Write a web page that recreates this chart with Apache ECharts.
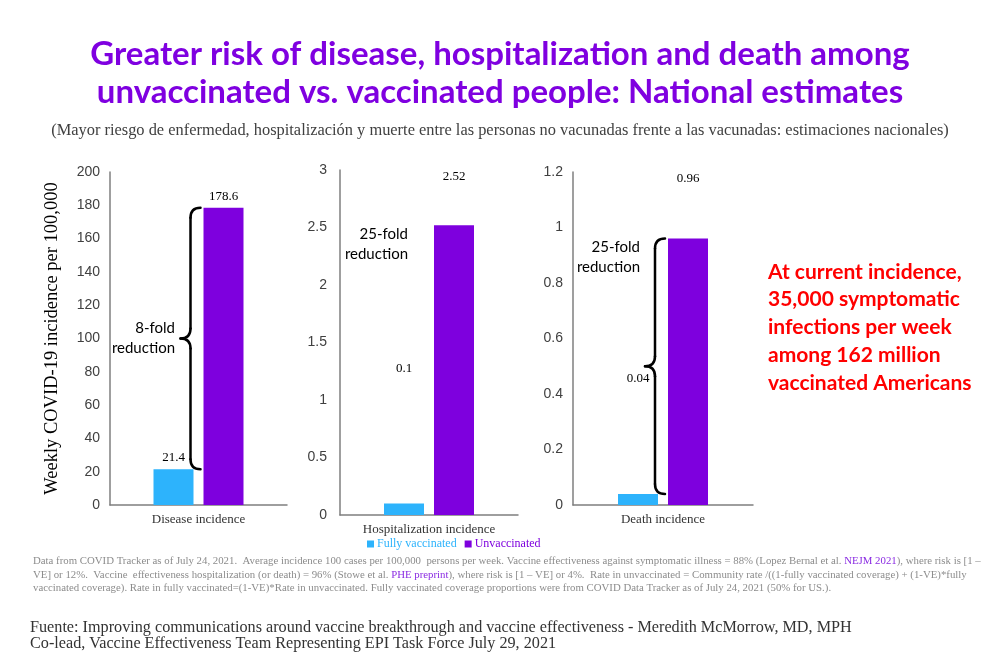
<!DOCTYPE html>
<html>
<head>
<meta charset="utf-8">
<script src="https://cdn.jsdelivr.net/npm/echarts@6/dist/echarts.min.js"></script>
<style>
html,body{margin:0;padding:0;background:#fff;}
#c{width:1000px;height:667px;}
</style>
</head>
<body>
<div id="c"></div>
<script>
// ---- data ----
var categories = ['Disease incidence', 'Hospitalization incidence', 'Death incidence'];
var fullyVaccinated = [21.4, 0.1, 0.04];
var unvaccinated = [178.6, 2.52, 0.96];
var yMax = [200, 3, 1.2];
var yInterval = [20, 0.5, 0.2];
var seriesNames = ['Fully vaccinated', 'Unvaccinated'];
var foldTexts = ['8-fold\nreduction', '25-fold\nreduction', '25-fold\nreduction'];

var BLUE = '#2DB3FC';
var PURPLE = '#7E00DE';
var SERIF = '"Liberation Serif", "DejaVu Serif", serif';
var SANS = '"Liberation Sans", Arial, sans-serif';

var chart = echarts.init(document.getElementById('c'), null, {renderer: 'canvas'});

var grids = [
  {left: 110, top: 172, width: 177, height: 333},
  {left: 340, top: 170, width: 178, height: 345},
  {left: 573, top: 172, width: 180, height: 333}
];

// label offsets for annotated values (annotation placement only)
var blueLabelOffset = [[0, 0], [0, -123], [0, -104]];
var purpleLabelOffset = [[0, 0], [0, -37], [0, -49]];

var xAxes = [], yAxes = [], series = [];
for (var i = 0; i < 3; i++) {
  xAxes.push({
    gridIndex: i, type: 'category', data: [categories[i]],
    axisLine: {lineStyle: {color: '#7f7f7f', width: 1.5}},
    axisTick: {show: false},
    axisLabel: {color: '#333', fontFamily: SERIF, fontSize: 13, margin: 8}
  });
  yAxes.push({
    gridIndex: i, type: 'value', min: 0, max: yMax[i], interval: yInterval[i],
    splitLine: {show: false},
    axisLine: {show: true, lineStyle: {color: '#7f7f7f', width: 1.5}},
    axisTick: {show: false},
    axisLabel: {color: '#404040', fontFamily: SANS, fontSize: 14, margin: i === 1 ? 13 : 10},
    name: i === 0 ? 'Weekly COVID-19 incidence per 100,000' : '',
    nameLocation: 'middle', nameGap: 48, nameRotate: 90,
    nameTextStyle: {color: '#000', fontFamily: SERIF, fontSize: 18.5}
  });
  series.push({
    name: seriesNames[0], type: 'bar', xAxisIndex: i, yAxisIndex: i,
    data: [fullyVaccinated[i]], barWidth: 40, barGap: '25%',
    itemStyle: {color: BLUE},
    label: {show: true, position: 'top', distance: 5, offset: blueLabelOffset[i],
      color: '#000', fontFamily: SERIF, fontSize: 13}
  });
  series.push({
    name: seriesNames[1], type: 'bar', xAxisIndex: i, yAxisIndex: i,
    data: [unvaccinated[i]], barWidth: 40, barGap: '25%',
    itemStyle: {color: PURPLE},
    label: {show: true, position: 'top', distance: 5, offset: purpleLabelOffset[i],
      color: '#000', fontFamily: SERIF, fontSize: 13}
  });
}

var footRich = {
  g: {fill: '#8c8c8c', fontFamily: SERIF, fontSize: 10.8, lineHeight: 13.5},
  l: {fill: '#8A2BE2', fontFamily: SERIF, fontSize: 10.8, lineHeight: 13.5}
};
var footText =
  '{g|Data from COVID Tracker as of July 24, 2021.  Average incidence 100 cases per 100,000  persons per week. Vaccine effectiveness against symptomatic illness = 88% (Lopez Bernal et al. }{l|NEJM 2021}{g|), where risk is [1 –}\n' +
  '{g|VE] or 12%.  Vaccine  effectiveness hospitalization (or death) = 96% (Stowe et al. }{l|PHE preprint}{g|), where risk is [1 – VE] or 4%.  Rate in unvaccinated = Community rate /((1-fully vaccinated coverage) + (1-VE)*fully}\n' +
  '{g|vaccinated coverage). Rate in fully vaccinated=(1-VE)*Rate in unvaccinated. Fully vaccinated coverage proportions were from COVID Data Tracker as of July 24, 2021 (50% for US.).}';

var option = {
  backgroundColor: '#fff',
  animation: false,
  title: [{
    text: 'Greater risk of disease, hospitalization and death among\nunvaccinated vs. vaccinated people: National estimates',
    left: 'center', top: 30,
    textStyle: {color: '#7F00E0', fontFamily: 'Lato', fontWeight: 'bold', fontSize: 33, lineHeight: 38}
  }, {
    text: '(Mayor riesgo de enfermedad, hospitalización y muerte entre las personas no vacunadas frente a las vacunadas: estimaciones nacionales)',
    left: 'center', top: 118,
    textStyle: {color: '#404040', fontFamily: SERIF, fontWeight: 'normal', fontSize: 16.4}
  }],
  legend: {
    left: 362, top: 533, itemWidth: 7, itemHeight: 7, itemGap: 8,
    icon: 'rect',
    data: [
      {name: seriesNames[0], textStyle: {color: BLUE}},
      {name: seriesNames[1], textStyle: {color: PURPLE}}
    ],
    textStyle: {fontFamily: SERIF, fontSize: 12, padding: [0, 0, 0, -2]}
  },
  grid: grids,
  xAxis: xAxes,
  yAxis: yAxes,
  series: series,
  graphic: [
    {type: 'text', left: 768, top: 258, style: {
      text: 'At current incidence,\n35,000 symptomatic\ninfections per week\namong 162 million\nvaccinated Americans',
      fill: '#FF0000', font: 'bold 21px Lato', lineHeight: 27.8, align: 'center'}},
    {type: 'text', left: 33, top: 556, style: {rich: footRich, text: footText}},
    {type: 'text', left: 30, top: 619, style: {
      text: 'Fuente: Improving communications around vaccine breakthrough and vaccine effectiveness - Meredith McMorrow, MD, MPH\nCo-lead, Vaccine Effectiveness Team Representing EPI Task Force July 29, 2021',
      fill: '#333', font: '16.2px "Liberation Serif"', lineHeight: 16.5}}
  ]
};
chart.setOption(option);

// annotations positioned through the chart's own scales
function braceParts(xr, y1, y2, w) {
  var xm = xr - w * 0.5, xt = xr - w, ym = (y1 + y2) / 2, r = w * 0.5;
  var st = {stroke: '#000', lineWidth: 2.5, fill: null, lineCap: 'round'};
  return [
    {type: 'bezierCurve', shape: {x1: xr, y1: y1, cpx1: xm, cpy1: y1, x2: xm, y2: y1 + r}, style: st},
    {type: 'line', shape: {x1: xm, y1: y1 + r, x2: xm, y2: ym - r}, style: st},
    {type: 'bezierCurve', shape: {x1: xm, y1: ym - r, cpx1: xm, cpy1: ym, x2: xt, y2: ym}, style: st},
    {type: 'bezierCurve', shape: {x1: xt, y1: ym, cpx1: xm, cpy1: ym, x2: xm, y2: ym + r}, style: st},
    {type: 'line', shape: {x1: xm, y1: ym + r, x2: xm, y2: y2 - r}, style: st},
    {type: 'bezierCurve', shape: {x1: xm, y1: y2 - r, cpx1: xm, cpy1: y2, x2: xr, y2: y2}, style: st}
  ];
}
var extra = [];
var foldAnchor = [[-23.5, 0.5], [-21, 0.785], [-23, 0.743]];
for (var k = 0; k < 3; k++) {
  var cTop = chart.convertToPixel({gridIndex: k}, [0, unvaccinated[k]]);
  var cLow = chart.convertToPixel({gridIndex: k}, [0, fullyVaccinated[k]]);
  var cx = cTop[0];
  if (k !== 1) {
    extra = extra.concat(braceParts(cx + 2, cTop[1], cLow[1], 20));
  }
  var ft = chart.convertToPixel({gridIndex: k}, [0, yMax[k] * foldAnchor[k][1]]);
  extra.push({type: 'text', x: cx + foldAnchor[k][0], y: ft[1], style: {
    text: foldTexts[k], fill: '#000', font: '15px Lato', lineHeight: 20,
    align: 'right', verticalAlign: 'middle'}});
}
var g = option.graphic.concat(extra);
chart.setOption({graphic: g});
</script>
</body>
</html>
